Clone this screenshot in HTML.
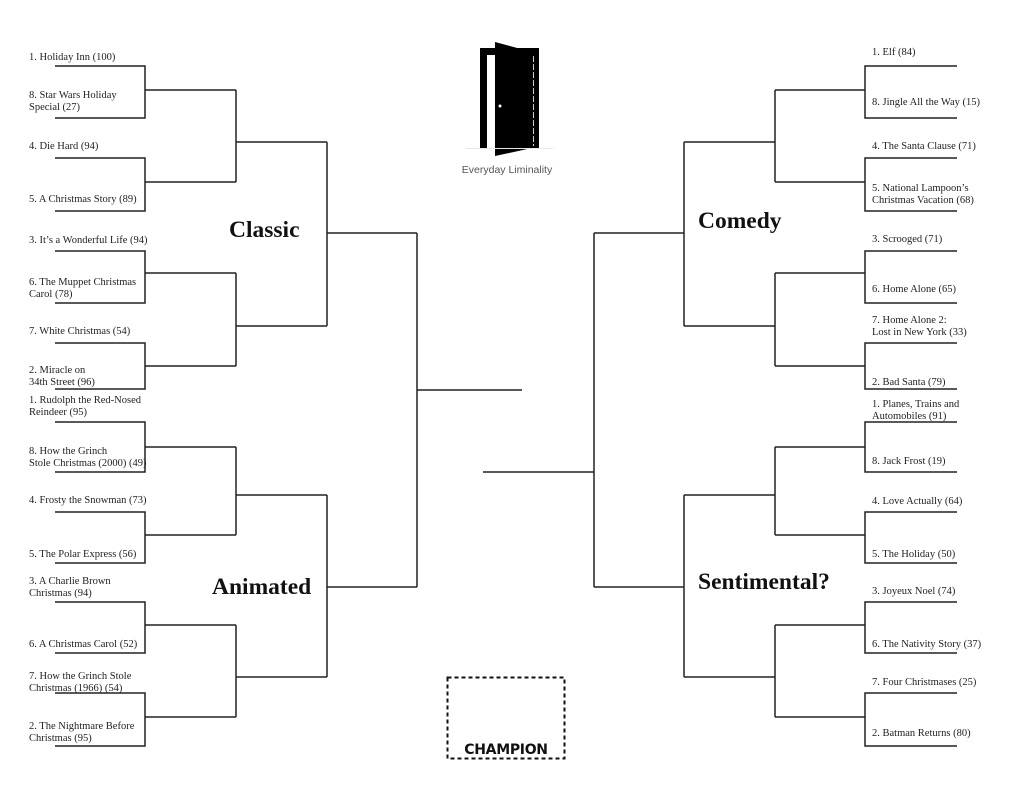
<!DOCTYPE html>
<html><head><meta charset="utf-8"><style>
html,body{margin:0;padding:0;background:#fff;}
svg{display:block;}
.l{font-family:"Liberation Serif",serif;font-size:10.5px;fill:#222;}
.h{font-family:"Liberation Serif",serif;font-size:23.5px;font-weight:bold;fill:#111;}
</style></head><body>
<svg width="1024" height="791" viewBox="0 0 1024 791" xmlns="http://www.w3.org/2000/svg">
<rect width="1024" height="791" fill="#fff"/>
<g stroke="#222" stroke-width="1.5" fill="none">
<path d="M55 66H145V118H55 M145 90H236 M55 158H145V211H55 M145 182H236 M236 90V182 M236 142H327
M55 251H145V303H55 M145 273H236 M55 343H145V389H55 M145 366H236 M236 273V366 M236 326H327
M327 142V326 M327 233H417"/>
<path d="M55 422H145V472H55 M145 447H236 M55 512H145V563H55 M145 535H236 M236 447V535 M236 495H327
M55 602H145V653H55 M145 625H236 M55 693H145V746H55 M145 717H236 M236 625V717 M236 677H327
M327 495V677 M327 587H417"/>
<path d="M417 233V587 M417 390H522"/>
<path d="M957 66H865V118H957 M865 90H775 M957 158H865V211H957 M865 182H775 M775 90V182 M775 142H684
M957 251H865V303H957 M865 273H775 M957 343H865V389H957 M865 366H775 M775 273V366 M775 326H684
M684 142V326 M684 233H594"/>
<path d="M957 422H865V472H957 M865 447H775 M957 512H865V563H957 M865 535H775 M775 447V535 M775 495H684
M957 602H865V653H957 M865 625H775 M957 693H865V746H957 M865 717H775 M775 625V717 M775 677H684
M684 495V677 M684 587H594"/>
<path d="M594 233V587 M594 472H483"/>
</g>
<rect x="447.5" y="677.5" width="117" height="81" fill="none" stroke="#111" stroke-width="2" stroke-dasharray="4,3"/>
<text x="506" y="754" text-anchor="middle" font-family="'DejaVu Sans','Liberation Sans',sans-serif" font-weight="bold" font-size="14" fill="#111" letter-spacing="-0.3">CHAMPION</text>
<rect x="480" y="48" width="59" height="100" fill="#000"/>
<rect x="487" y="55" width="9" height="93" fill="#fff"/>
<polygon points="495,42 532,52 532,148 495,156" fill="#000"/>
<line x1="533.5" y1="56" x2="533.5" y2="146" stroke="#fff" stroke-width="0.8" stroke-dasharray="6,2"/>
<circle cx="500" cy="106" r="1.5" fill="#fff"/>
<line x1="466" y1="148.5" x2="553" y2="148.5" stroke="#e6e6e6" stroke-width="1"/>
<text x="507" y="173" text-anchor="middle" font-family="'Liberation Sans',sans-serif" font-size="10.5" fill="#555">Everyday Liminality</text>
<text class="h" x="229" y="237">Classic</text>
<text class="h" x="212" y="594">Animated</text>
<text class="h" x="698" y="228">Comedy</text>
<text class="h" x="698" y="589">Sentimental?</text>
<g class="l">
<text x="29" y="60">1. Holiday Inn (100)</text>
<text x="29" y="98">8. Star Wars Holiday<tspan x="29" dy="12">Special (27)</tspan></text>
<text x="29" y="149">4. Die Hard (94)</text>
<text x="29" y="202">5. A Christmas Story (89)</text>
<text x="29" y="243">3. It’s a Wonderful Life (94)</text>
<text x="29" y="285">6. The Muppet Christmas<tspan x="29" dy="12">Carol (78)</tspan></text>
<text x="29" y="334">7. White Christmas (54)</text>
<text x="29" y="373">2. Miracle on<tspan x="29" dy="12">34th Street (96)</tspan></text>
<text x="29" y="403">1. Rudolph the Red-Nosed<tspan x="29" dy="12">Reindeer (95)</tspan></text>
<text x="29" y="454">8. How the Grinch<tspan x="29" dy="12">Stole Christmas (2000) (49)</tspan></text>
<text x="29" y="503">4. Frosty the Snowman (73)</text>
<text x="29" y="557">5. The Polar Express (56)</text>
<text x="29" y="584">3. A Charlie Brown<tspan x="29" dy="12">Christmas (94)</tspan></text>
<text x="29" y="647">6. A Christmas Carol (52)</text>
<text x="29" y="679">7. How the Grinch Stole<tspan x="29" dy="12">Christmas (1966) (54)</tspan></text>
<text x="29" y="729">2. The Nightmare Before<tspan x="29" dy="12">Christmas (95)</tspan></text>
</g>
<g class="l">
<text x="872" y="55">1. Elf (84)</text>
<text x="872" y="105">8. Jingle All the Way (15)</text>
<text x="872" y="149">4. The Santa Clause (71)</text>
<text x="872" y="191">5. National Lampoon’s<tspan x="872" dy="12">Christmas Vacation (68)</tspan></text>
<text x="872" y="242">3. Scrooged (71)</text>
<text x="872" y="292">6. Home Alone (65)</text>
<text x="872" y="323">7. Home Alone 2:<tspan x="872" dy="12">Lost in New York (33)</tspan></text>
<text x="872" y="385">2. Bad Santa (79)</text>
<text x="872" y="407">1. Planes, Trains and<tspan x="872" dy="12">Automobiles (91)</tspan></text>
<text x="872" y="464">8. Jack Frost (19)</text>
<text x="872" y="504">4. Love Actually (64)</text>
<text x="872" y="557">5. The Holiday (50)</text>
<text x="872" y="594">3. Joyeux Noel (74)</text>
<text x="872" y="647">6. The Nativity Story (37)</text>
<text x="872" y="685">7. Four Christmases (25)</text>
<text x="872" y="736">2. Batman Returns (80)</text>
</g>
</svg>
</body></html>
